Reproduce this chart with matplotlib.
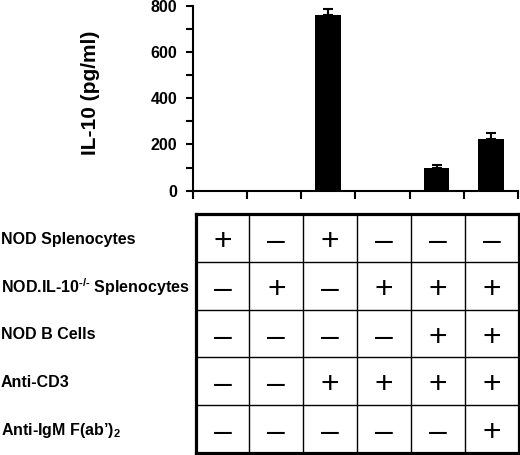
import matplotlib
matplotlib.use('Agg')
import matplotlib.pyplot as plt
import matplotlib.transforms as mtransforms
import numpy as np

plt.rcParams['font.family'] = ['Liberation Sans', 'DejaVu Sans']
plt.rcParams['mathtext.fontset'] = 'custom'
plt.rcParams['mathtext.default'] = 'bf'
plt.rcParams['mathtext.bf'] = 'Liberation Sans:bold'
plt.rcParams['mathtext.rm'] = 'Liberation Sans:bold'

# ---- data ----
il10_values = [0, 0, 760, 0, 100, 225]
il10_errors = [0, 0, 25, 0, 12, 23]
y_ticks = [0, 200, 400, 600, 800]
y_label = 'IL-10 (pg/ml)'
conditions = ['NOD Splenocytes',
              'NOD.IL-10$^{\\text{-/-}}$ Splenocytes',
              'NOD B Cells',
              'Anti-CD3',
              'Anti-IgM F(ab\u2019)$_2$']
presence = [
    ['+', '-', '+', '-', '-', '-'],
    ['-', '+', '-', '+', '+', '+'],
    ['-', '-', '-', '-', '+', '+'],
    ['-', '-', '+', '+', '+', '+'],
    ['-', '-', '-', '-', '-', '+'],
]

W, H = 520, 455
fig = plt.figure(figsize=(W / 100, H / 100), dpi=100)

# ---- bar chart ----
ax = fig.add_axes([192.5 / W, 1 - 190.7 / H, 325.5 / W, 185 / H])
x = np.arange(len(il10_values))
ax.bar(x, il10_values, width=0.47, color='black', zorder=2)
for xi, v, e in zip(x, il10_values, il10_errors):
    if e > 0:
        ax.errorbar([xi], [v], yerr=[[0], [e]], fmt='none', ecolor='black',
                    elinewidth=1.5, capsize=3.6, capthick=1.5, zorder=3)
ax.set_xlim(-0.5, len(il10_values) - 0.5)
ax.set_ylim(0, 800)
ax.set_yticks(y_ticks)
ax.set_yticks(np.arange(100, 800, 200), minor=True)
ax.set_xticks(np.arange(-0.5, len(il10_values), 1.0))
ax.set_xticklabels([])
for s in ['top', 'right']:
    ax.spines[s].set_visible(False)
for s in ['left', 'bottom']:
    ax.spines[s].set_linewidth(1.5)
ax.tick_params(axis='y', which='both', direction='out', length=5, width=1.5,
               labelsize=11.5, pad=6)
ax.tick_params(axis='x', which='both', direction='out', length=6, width=1.5)
for lab in ax.get_yticklabels():
    lab.set_fontweight('bold')
ax.set_ylabel(y_label, fontsize=15, fontweight='bold', va='center')
ax.yaxis.set_label_coords((91 - 192.5) / 325.5, (190.7 - 92.5) / 185)

# ---- table ----
tx0, tx1 = 195.5, 519.0
ty0, ty1 = 214.0, 453.0
tax = fig.add_axes([tx0 / W, 1 - ty1 / H, (tx1 - tx0) / W, (ty1 - ty0) / H])
nrows, ncols = len(presence), len(presence[0])
tax.set_xlim(0, ncols)
tax.set_ylim(nrows, 0)
tax.set_xticks([])
tax.set_yticks([])
for s in tax.spines.values():
    s.set_linewidth(2.3)
for c in range(1, ncols):
    tax.axvline(c, color='black', lw=1.0)
for r in range(1, nrows):
    tax.axhline(r, color='black', lw=1.0)
for r, row in enumerate(presence):
    for c, sym in enumerate(row):
        ch = '+' if sym == '+' else '\u2013'
        tax.text(c + 0.5, r + 0.5 + 0.085, ch, ha='center', va='center',
                 fontsize=23, family='Liberation Sans')

trans = mtransforms.blended_transform_factory(fig.transFigure, tax.transData)
for r, name in enumerate(conditions):
    fig.text(1 / W, r + 0.5 + 0.03, name, transform=trans, ha='left',
             va='center', fontsize=11.5, fontweight='bold')

fig.savefig('out.png', dpi=100)
